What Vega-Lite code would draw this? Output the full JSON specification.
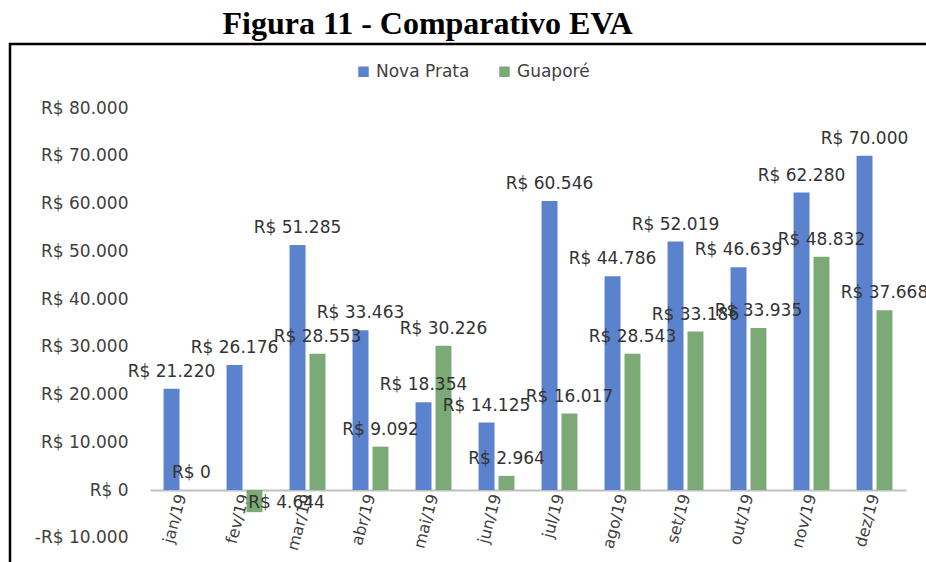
{
  "$schema": "https://vega.github.io/schema/vega-lite/v6.json",
  "width": 919,
  "height": 521,
  "autosize": {"type": "none"},
  "padding": {"left": 10, "top": 44, "right": -3, "bottom": -3},
  "background": "white",
  "title": {
    "text": "Figura 11 - Comparativo EVA",
    "font": "Liberation Serif",
    "fontSize": 32,
    "fontWeight": "bold",
    "color": "black",
    "anchor": "middle",
    "dx": -42,
    "offset": 3
  },
  "config": {
    "view": {"stroke": "black", "strokeWidth": 2.5},
    "locale": {
      "number": {
        "decimal": ",",
        "thousands": ".",
        "grouping": [3],
        "currency": ["R$ ", ""],
        "minus": "-"
      }
    },
    "font": "DejaVu Sans"
  },
  "data": {
    "values": [
      {"mes": "jan/19", "serie": "Nova Prata", "valor": 21220},
      {"mes": "fev/19", "serie": "Nova Prata", "valor": 26176},
      {"mes": "mar/19", "serie": "Nova Prata", "valor": 51285},
      {"mes": "abr/19", "serie": "Nova Prata", "valor": 33463},
      {"mes": "mai/19", "serie": "Nova Prata", "valor": 18354},
      {"mes": "jun/19", "serie": "Nova Prata", "valor": 14125},
      {"mes": "jul/19", "serie": "Nova Prata", "valor": 60546},
      {"mes": "ago/19", "serie": "Nova Prata", "valor": 44786},
      {"mes": "set/19", "serie": "Nova Prata", "valor": 52019},
      {"mes": "out/19", "serie": "Nova Prata", "valor": 46639},
      {"mes": "nov/19", "serie": "Nova Prata", "valor": 62280},
      {"mes": "dez/19", "serie": "Nova Prata", "valor": 70000},
      {"mes": "jan/19", "serie": "Guaporé", "valor": 0},
      {"mes": "fev/19", "serie": "Guaporé", "valor": -4644},
      {"mes": "mar/19", "serie": "Guaporé", "valor": 28553},
      {"mes": "abr/19", "serie": "Guaporé", "valor": 9092},
      {"mes": "mai/19", "serie": "Guaporé", "valor": 30226},
      {"mes": "jun/19", "serie": "Guaporé", "valor": 2964},
      {"mes": "jul/19", "serie": "Guaporé", "valor": 16017},
      {"mes": "ago/19", "serie": "Guaporé", "valor": 28543},
      {"mes": "set/19", "serie": "Guaporé", "valor": 33186},
      {"mes": "out/19", "serie": "Guaporé", "valor": 33935},
      {"mes": "nov/19", "serie": "Guaporé", "valor": 48832},
      {"mes": "dez/19", "serie": "Guaporé", "valor": 37668}
    ]
  },
  "encoding": {
    "x": {
      "field": "mes",
      "type": "nominal",
      "sort": null,
      "scale": {"range": [140, 896], "paddingInner": 0.43, "paddingOuter": 0.215},
      "axis": {
        "title": null,
        "offset": -75,
        "domainColor": "#BFBFBF",
        "domainWidth": 2,
        "ticks": false,
        "grid": false,
        "labelAngle": -75,
        "labelFontSize": 16,
        "labelColor": "#404040",
        "labelPadding": 4
      }
    },
    "xOffset": {
      "field": "serie",
      "type": "nominal",
      "sort": ["Nova Prata", "Guaporé"],
      "scale": {"paddingInner": 0.2}
    },
    "y": {
      "field": "valor",
      "type": "quantitative",
      "scale": {"domain": [-10000, 80000], "range": [493.75, 64], "nice": false, "zero": false},
      "axis": {
        "title": null,
        "values": [-10000, 0, 10000, 20000, 30000, 40000, 50000, 60000, 70000, 80000],
        "format": "$,.0f",
        "offset": -120,
        "domain": false,
        "ticks": false,
        "grid": false,
        "labelPadding": 2,
        "labelFontSize": 17,
        "labelColor": "#404040"
      }
    }
  },
  "layer": [
    {
      "mark": {"type": "bar"},
      "encoding": {
        "color": {
          "field": "serie",
          "type": "nominal",
          "scale": {"domain": ["Nova Prata", "Guaporé"], "range": ["#5B82CC", "#7BAA76"]},
          "legend": {
            "title": null,
            "orient": "none",
            "legendX": 345,
            "legendY": 19,
            "direction": "horizontal",
            "symbolType": "square",
            "symbolSize": 110,
            "labelFontSize": 17,
            "labelColor": "#404040",
            "columnPadding": 26
          }
        }
      }
    },
    {
      "transform": [{"filter": "datum.valor >= 0"}],
      "mark": {"type": "text", "dy": -17, "baseline": "middle", "fontSize": 17, "color": "#333333"},
      "encoding": {"text": {"field": "valor", "type": "quantitative", "format": "$,.0f"}}
    },
    {
      "transform": [{"filter": "datum.valor < 0"}, {"calculate": "abs(datum.valor)", "as": "absvalor"}],
      "mark": {"type": "text", "dy": -9, "dx": 32, "baseline": "middle", "fontSize": 17, "color": "#333333"},
      "encoding": {"text": {"field": "absvalor", "type": "quantitative", "format": "$,.0f"}}
    }
  ]
}
